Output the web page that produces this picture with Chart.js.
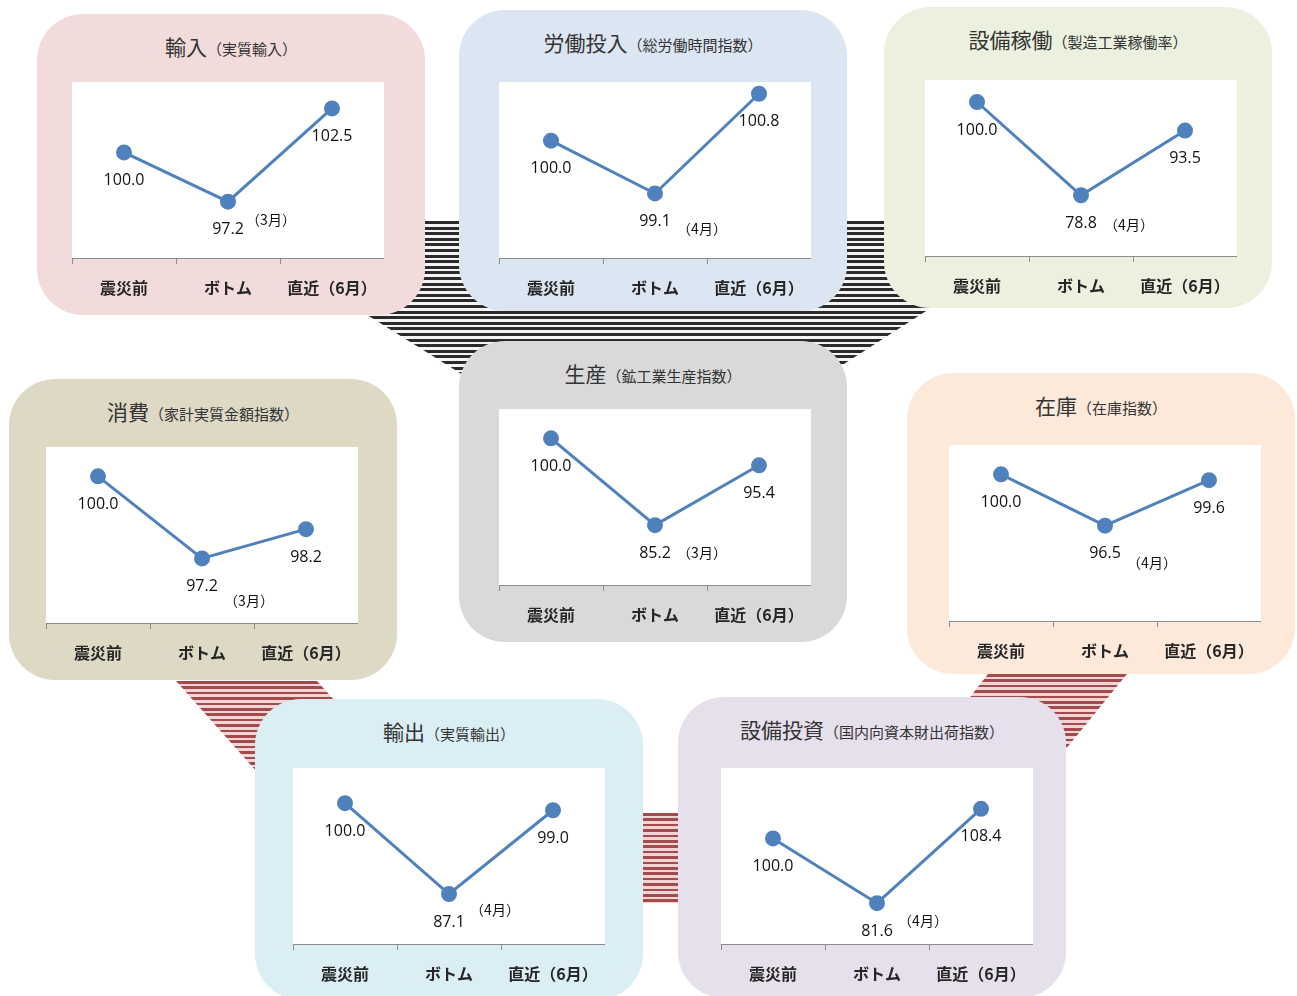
<!DOCTYPE html>
<html>
<head>
<meta charset="utf-8">
<script src="https://cdn.jsdelivr.net/npm/chart.js@4.4.1/dist/chart.umd.min.js"></script>
<style>
    body {
        margin: 0;
        width: 1297px;
        height: 996px;
        position: relative;
        overflow: hidden;
        background: #fff;
        font-family: "Noto Sans CJK JP", sans-serif;
    }
    .stripes-black {
        position: absolute;
        background: repeating-linear-gradient(180deg, #2b2b2b 0px, #2b2b2b 3px, #f4f4f4 3px, #f4f4f4 5.6px);
    }
    .stripes-red {
        position: absolute;
        background: repeating-linear-gradient(180deg, #a34a4c 0px, #a34a4c 2.6px, #f2d4d4 2.6px, #f2d4d4 5.4px);
    }
    .panel {
        position: absolute;
        width: 388px;
        height: 301px;
        border-radius: 46px;
    }
    .panel .title {
        position: absolute;
        left: 0;
        right: 0;
        top: 16px;
        height: 32px;
        line-height: 32px;
        text-align: center;
        color: #333;
        white-space: nowrap;
    }
    .panel .title .main { font-size: 21px; }
    .panel .title .sub { font-size: 15px; }
    .panel canvas { position: absolute; }
</style>
</head>
<body>

<!-- background connectors -->
<div class="stripes-black" style="left:200px; top:221px; width:880px; height:180px;
    clip-path: polygon(17px 0px, 866px 0px, 588px 179px, 303px 179px);"></div>
<div class="stripes-red" style="left:170px; top:681px; width:180px; height:120px;
    clip-path: polygon(6px 0px, 147px 0px, 175px 31px, 112px 119px);"></div>
<div class="stripes-red" style="left:930px; top:674px; width:200px; height:120px;
    clip-path: polygon(58px 0px, 197px 0px, 100px 119px, 20px 49px);"></div>
<div class="stripes-red" style="left:643px; top:813px; width:35px; height:90px;"></div>

<script>
// categories (x axis)
const categories = ['震災前', 'ボトム', '直近（6月）'];

// series values, one per panel
const importValues = [100.0, 97.2, 102.5];
const laborValues = [100.0, 99.1, 100.8];
const utilizationValues = [100.0, 78.8, 93.5];
const consumptionValues = [100.0, 97.2, 98.2];
const productionValues = [100.0, 85.2, 95.4];
const inventoryValues = [100.0, 96.5, 99.6];
const exportValues = [100.0, 87.1, 99.0];
const capexValues = [100.0, 81.6, 108.4];

// month of the bottom point
const bottomMonths = ['（3月）', '（4月）', '（4月）', '（3月）', '（3月）', '（4月）', '（4月）', '（4月）'];

// hidden y axis ranges
const yMins = [94, 98, 65, 95, 75, 90, 80, 70];
const yMaxs = [104, 101, 105, 101, 105, 102, 105, 120];

const panels = [
    { main: '輸入', sub: '（実質輸入）', values: importValues, bg: '#F2DCDB', x: 37, y: 14, px: 35, py: 68, nx: 43, ny: 18 },
    { main: '労働投入', sub: '（総労働時間指数）', values: laborValues, bg: '#DCE6F2', x: 459, y: 10, px: 40, py: 72, nx: 47, ny: 35 },
    { main: '設備稼働', sub: '（製造工業稼働率）', values: utilizationValues, bg: '#EBF1DE', x: 884, y: 7, px: 41, py: 73, nx: 48, ny: 29 },
    { main: '消費', sub: '（家計実質金額指数）', values: consumptionValues, bg: '#DDD9C4', x: 9, y: 379, px: 37, py: 68, nx: 47, ny: 42 },
    { main: '生産', sub: '（鉱工業生産指数）', values: productionValues, bg: '#D9D9D9', x: 459, y: 341, px: 40, py: 68, nx: 47, ny: 28 },
    { main: '在庫', sub: '（在庫指数）', values: inventoryValues, bg: '#FDE9D9', x: 907, y: 373, px: 42, py: 72, nx: 47, ny: 37 },
    { main: '輸出', sub: '（実質輸出）', values: exportValues, bg: '#DBEEF3', x: 255, y: 699, px: 38, py: 69, nx: 46, ny: 16 },
    { main: '設備投資', sub: '（国内向資本財出荷指数）', values: capexValues, bg: '#E5E0EC', x: 678, y: 697, px: 43, py: 71, nx: 46, ny: 18 },
];

const plotW = 312;
const plotH = 176;
const axisH = 50;

// white plot area
const plotBackground = {
    id: 'plotBackground',
    beforeDraw(chart) {
        const { ctx, chartArea } = chart;
        ctx.save();
        ctx.fillStyle = '#ffffff';
        ctx.fillRect(chartArea.left, chartArea.top, chartArea.width, chartArea.height);
        ctx.restore();
    }
};

// value labels under each point, plus the month note at the bottom point
const valueLabels = {
    id: 'valueLabels',
    afterDatasetsDraw(chart, args, opts) {
        const { ctx } = chart;
        const meta = chart.getDatasetMeta(0);
        const values = chart.data.datasets[0].data;
        ctx.save();
        ctx.fillStyle = '#111';
        ctx.textAlign = 'center';
        ctx.textBaseline = 'middle';
        ctx.font = '16px "Open Sans", sans-serif';
        meta.data.forEach((pt, i) => {
            ctx.fillText(values[i].toFixed(1), pt.x, pt.y + 28);
        });
        const bottom = meta.data[1];
        ctx.font = '14px "Noto Sans CJK JP", sans-serif';
        ctx.fillText(opts.month, bottom.x + opts.dx, bottom.y + opts.dy);
        ctx.restore();
    }
};

panels.forEach((p, idx) => {
    const div = document.createElement('div');
    div.className = 'panel';
    div.style.left = p.x + 'px';
    div.style.top = p.y + 'px';
    div.style.background = p.bg;

    const title = document.createElement('div');
    title.className = 'title';
    title.innerHTML = '<span class="main">' + p.main + '</span><span class="sub">' + p.sub + '</span>';
    div.appendChild(title);

    const canvas = document.createElement('canvas');
    canvas.width = plotW;
    canvas.height = plotH + axisH;
    canvas.style.left = p.px + 'px';
    canvas.style.top = p.py + 'px';
    div.appendChild(canvas);
    document.body.appendChild(div);

    new Chart(canvas.getContext('2d'), {
        type: 'line',
        data: {
            labels: categories,
            datasets: [{
                data: p.values,
                borderColor: '#4F81BD',
                backgroundColor: '#4F81BD',
                borderWidth: 3,
                pointRadius: 6.5,
                pointHoverRadius: 6.5,
                pointBackgroundColor: '#4F81BD',
                pointBorderColor: '#4F81BD',
                tension: 0,
                clip: false,
            }],
        },
        options: {
            responsive: false,
            animation: false,
            layout: { padding: 0, autoPadding: false },
            scales: {
                x: {
                    offset: true,
                    grid: {
                        display: true,
                        drawOnChartArea: false,
                        offset: true,
                        tickLength: 6,
                        color: '#8c8c8c',
                    },
                    border: { display: true, color: '#8c8c8c', width: 1 },
                    ticks: {
                        padding: 14,
                        color: '#262626',
                        maxRotation: 0,
                        font: { family: '"Noto Sans CJK JP", sans-serif', size: 16, weight: 'bold' },
                    },
                    afterFit: (scale) => {
                        scale.height = axisH;
                        scale.paddingLeft = 0;
                        scale.paddingRight = 0;
                    },
                },
                y: {
                    display: false,
                    min: yMins[idx],
                    max: yMaxs[idx],
                },
            },
            plugins: {
                legend: { display: false },
                tooltip: { enabled: false },
                valueLabels: { month: bottomMonths[idx], dx: p.nx, dy: p.ny },
            },
        },
        plugins: [plotBackground, valueLabels],
    });
});
</script>
</body>
</html>
